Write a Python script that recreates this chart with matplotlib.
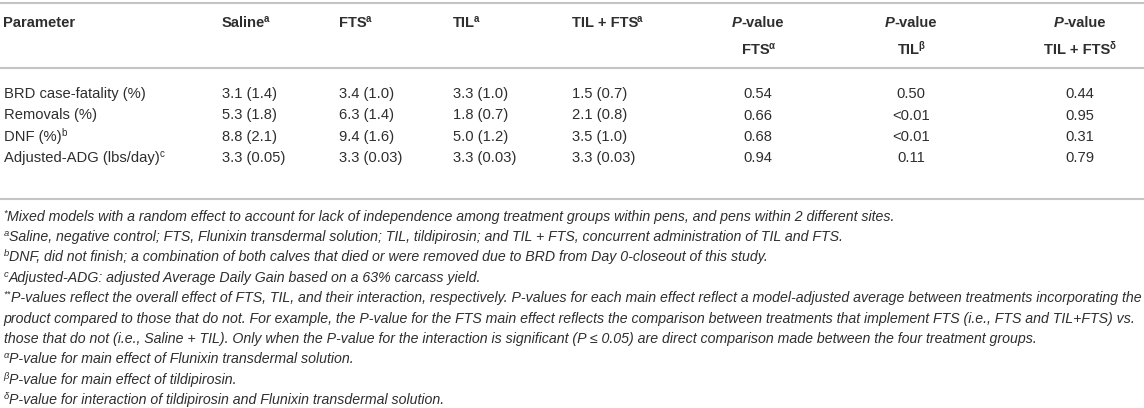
import matplotlib
matplotlib.use('Agg')
import matplotlib.pyplot as plt
from matplotlib.lines import Line2D

# ---------------- data ----------------
columns = ["Parameter", "Saline", "FTS", "TIL", "TIL + FTS"]
pcolumns = [("FTS", "\u03b1"), ("TIL", "\u03b2"), ("TIL + FTS", "\u03b4")]
parameters = ["BRD case-fatality (%)", "Removals (%)", "DNF (%)", "Adjusted-ADG (lbs/day)"]
param_sup = ["", "", "b", "c"]
saline = ["3.1 (1.4)", "5.3 (1.8)", "8.8 (2.1)", "3.3 (0.05)"]
fts = ["3.4 (1.0)", "6.3 (1.4)", "9.4 (1.6)", "3.3 (0.03)"]
til = ["3.3 (1.0)", "1.8 (0.7)", "5.0 (1.2)", "3.3 (0.03)"]
til_fts = ["1.5 (0.7)", "2.1 (0.8)", "3.5 (1.0)", "3.3 (0.03)"]
p_fts = ["0.54", "0.66", "0.68", "0.94"]
p_til = ["0.50", "<0.01", "<0.01", "0.11"]
p_int = ["0.44", "0.95", "0.31", "0.79"]
footnotes = [
    ("*", "Mixed models with a random effect to account for lack of independence among treatment groups within pens, and pens within 2 different sites."),
    ("a", "Saline, negative control; FTS, Flunixin transdermal solution; TIL, tildipirosin; and TIL + FTS, concurrent administration of TIL and FTS."),
    ("b", "DNF, did not finish; a combination of both calves that died or were removed due to BRD from Day 0-closeout of this study."),
    ("c", "Adjusted-ADG: adjusted Average Daily Gain based on a 63% carcass yield."),
    ("**", "P-values reflect the overall effect of FTS, TIL, and their interaction, respectively. P-values for each main effect reflect a model-adjusted average between treatments incorporating the"),
    ("", "product compared to those that do not. For example, the P-value for the FTS main effect reflects the comparison between treatments that implement FTS (i.e., FTS and TIL+FTS) vs."),
    ("", "those that do not (i.e., Saline + TIL). Only when the P-value for the interaction is significant (P \u2264 0.05) are direct comparison made between the four treatment groups."),
    ("\u03b1", "P-value for main effect of Flunixin transdermal solution."),
    ("\u03b2", "P-value for main effect of tildipirosin."),
    ("\u03b4", "P-value for interaction of tildipirosin and Flunixin transdermal solution."),
]

# ---------------- layout ----------------
W, H = 1144, 408
fig = plt.figure(figsize=(W / 100, H / 100), dpi=100)
fig.patch.set_facecolor('white')
R = fig.canvas.get_renderer()
FAM = ['Liberation Sans', 'DejaVu Sans']
TXT = '#2e2e2e'
RULE = '#c4c4c4'


def width_of(s, size, **kw):
    t = fig.text(0, 0, s, fontsize=size, family=FAM, **kw)
    w = t.get_window_extent(R).width
    t.remove()
    return w


BODY = 10.0 * 142.0 / width_of(parameters[0], 10.0)
NOTE = 9.0 * 1136.0 / width_of(footnotes[4][1], 9.0, fontstyle='italic')


def run(parts, x, y, size, align='left', **kw):
    """parts: list of (text, is_superscript, extra_kwargs). y = baseline in px from top."""
    bold = kw.get('fontweight') == 'bold'
    texts = []
    for p in parts:
        s, sup = p[0], p[1]
        extra = dict(kw)
        if len(p) > 2:
            extra.update(p[2])
        sz = size * (0.66 if sup else 1.0)
        t = fig.text(0, 0, s, fontsize=sz, family=FAM, ha='left', va='baseline',
                     color=TXT, **extra)
        texts.append((t, sup))
    widths = [t.get_window_extent(R).width for t, _ in texts]
    kern = -1.2 if bold else 0.0
    adj = [(kern if (sup and k > 0) else 0.0) for k, (_, sup) in enumerate(texts)]
    total = sum(widths) + sum(adj)
    cur = x - total / 2 if align == 'center' else x
    for (t, sup), w, a in zip(texts, widths, adj):
        cur += a
        yy = y - (size * 100 / 72 * 0.36 if sup else 0)
        t.set_position((cur / W, 1 - yy / H))
        cur += w
    return total


def rule(y):
    fig.add_artist(Line2D([0, 1], [1 - y / H] * 2, color=RULE, lw=1.5,
                          transform=fig.transFigure))


col_x = [3.5, 222, 339, 453, 572]
pcol_x = [758, 911, 1080]
head1, head2 = 27, 54
row_y = [98, 119.5, 141, 162.5]
note_y0, note_dy = 220.5, 20.4

rule(3)
rule(68)
rule(199)

# header
B = dict(fontweight='bold')
run([(columns[0], False)], col_x[0], head1, BODY, **B)
for name, x in zip(columns[1:], col_x[1:]):
    run([(name, False), ("a", True)], x, head1, BODY, **B)
for (name, sup), x in zip(pcolumns, pcol_x):
    run([("P", False, dict(fontstyle='italic')), ("-value", False)], x, head1, BODY,
        align='center', **B)
    run([(name, False), (sup, True)], x, head2, BODY, align='center', **B)

# body rows
for i, y in enumerate(row_y):
    parts = [(parameters[i], False)]
    if param_sup[i]:
        parts.append((param_sup[i], True))
    run(parts, col_x[0], y, BODY)
    for vals, x in zip([saline, fts, til, til_fts], col_x[1:]):
        run([(vals[i], False)], x, y, BODY)
    for vals, x in zip([p_fts, p_til, p_int], pcol_x):
        run([(vals[i], False)], x, y, BODY, align='center')

# footnotes
for i, (mark, text) in enumerate(footnotes):
    y = note_y0 + i * note_dy
    parts = []
    if mark:
        parts.append((mark, True))
    parts.append((text, False))
    run(parts, 3.5, y, NOTE, fontstyle='italic')

fig.savefig('out.png', dpi=100, facecolor='white')
